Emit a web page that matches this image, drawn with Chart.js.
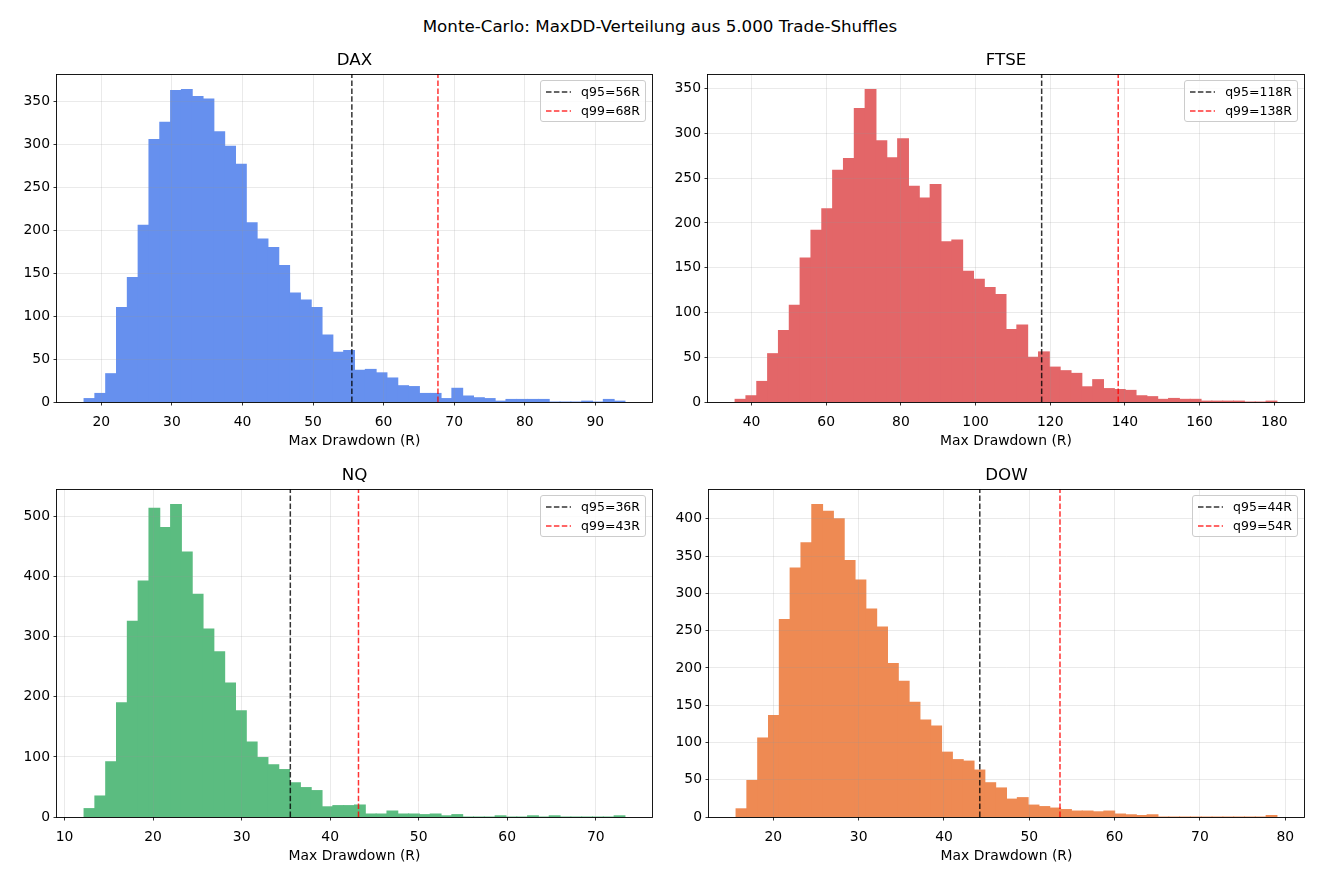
<!DOCTYPE html>
<html><head>
<meta charset="UTF-8">
<title>Monte-Carlo: MaxDD-Verteilung</title>
<script src="https://cdn.jsdelivr.net/npm/chart.js@4"></script>
<style>
    body {
        margin: 0;
        width: 1320px;
        height: 880px;
        background: #fff;
        font-family: 'DejaVu Sans', sans-serif;
        position: relative;
        overflow: hidden;
    }
    canvas { position: absolute; }
    .txt {
        position: absolute;
        transform: translate(-50%, -50%);
        white-space: nowrap;
        color: #000;
        line-height: 1;
    }
    .sup, .ttl { font-size: 16.7px; }
    .xlab { font-size: 13.9px; }
    .legend {
        position: absolute;
        box-sizing: border-box;
        height: 42px;
        padding: 1.5px 5px 0 5px;
        background: rgba(255,255,255,0.8);
        border: 1px solid #ccc;
        border-radius: 3px;
        font-size: 12.5px;
    }
    .legend .row { display: flex; align-items: center; height: 18.7px; }
    .legend svg { width: 25px; height: 6px; margin-right: 10px; }
</style>
</head>
<body>
<div class="txt sup" style="left:660px;top:26px">Monte-Carlo: MaxDD-Verteilung aus 5.000 Trade-Shuffles</div>

<script>
    // bin ranges (first edge, last edge) and counts of the 50 histogram bins
    const daxRange = [17.55, 94.2];
    const daxCounts = [4, 10, 33, 110, 145, 206, 306, 326, 363, 364,
                       356, 353, 315, 298, 277, 209, 190, 180, 159, 127,
                       119, 110, 78, 58, 60, 37, 38, 34, 28, 19,
                       18, 10, 10, 4, 16, 7, 5, 4, 1, 3,
                       3, 3, 3, 0, 0, 0, 1, 0, 3, 1];
    const daxQuantiles = [55.5, 67.7];
    const daxQLabels = ['q95=56R', 'q99=68R'];

    const ftseRange = [35.6, 180.7];
    const ftseCounts = [3, 7, 23, 54, 80, 108, 161, 192, 216, 259,
                        272, 328, 349, 292, 273, 294, 241, 228, 243, 179,
                        181, 146, 137, 128, 120, 81, 86, 50, 56, 39,
                        35, 32, 17, 25, 15, 14, 13, 7, 6, 3,
                        4, 3, 3, 1, 1, 1, 1, 0, 0, 1];
    const ftseQuantiles = [117.7, 138.2];
    const ftseQLabels = ['q95=118R', 'q99=138R'];

    const nqRange = [12.2, 73.3];
    const nqCounts = [14, 35, 92, 190, 326, 393, 514, 482, 520, 441,
                      371, 313, 275, 223, 177, 125, 99, 87, 79, 57,
                      49, 44, 17, 19, 19, 20, 5, 5, 10, 5,
                      5, 4, 5, 2, 4, 0, 0, 0, 2, 0,
                      0, 2, 0, 2, 0, 0, 0, 0, 0, 2];
    const nqQuantiles = [35.5, 43.2];
    const nqQLabels = ['q95=36R', 'q99=43R'];

    const dowRange = [15.63, 79.03];
    const dowCounts = [11, 49, 106, 136, 265, 334, 368, 419, 410, 400,
                       344, 318, 279, 255, 206, 182, 154, 130, 122, 87,
                       77, 75, 63, 46, 39, 24, 26, 16, 14, 12,
                       10, 8, 8, 7, 8, 4, 3, 2, 3, 0,
                       0, 0, 0, 0, 0, 0, 0, 0, 0, 2];
    const dowQuantiles = [44.2, 53.6];
    const dowQLabels = ['q95=44R', 'q99=54R'];

    const panels = [
        { name: 'DAX',  range: daxRange,  counts: daxCounts,  q: daxQuantiles,  qLabels: daxQLabels,  color: '#6690ee', xStep: 10, yStep: 50,  box: [57, 74, 652, 402] },
        { name: 'FTSE', range: ftseRange, counts: ftseCounts, q: ftseQuantiles, qLabels: ftseQLabels, color: '#e36668', xStep: 20, yStep: 50,  box: [708, 74, 1304, 402] },
        { name: 'NQ',   range: nqRange,   counts: nqCounts,   q: nqQuantiles,   qLabels: nqQLabels,   color: '#5bbc80', xStep: 10, yStep: 100, box: [57, 489, 652, 817] },
        { name: 'DOW',  range: dowRange,  counts: dowCounts,  q: dowQuantiles,  qLabels: dowQLabels,  color: '#ee8a53', xStep: 10, yStep: 50,  box: [709, 489, 1304, 817] }
    ];

    const lineColors = ['rgba(0,0,0,0.8)', 'rgba(255,0,0,0.8)'];
    const tickFont = { family: 'DejaVu Sans', size: 13.9 };

    // draws the four axes spines like matplotlib
    const framePlugin = {
        id: 'frame',
        afterDraw(chart) {
            const a = chart.chartArea;
            const ctx = chart.ctx;
            ctx.save();
            ctx.strokeStyle = '#000';
            ctx.lineWidth = 0.9;
            ctx.strokeRect(Math.round(a.left) - 0.5, Math.round(a.top) + 0.5,
                           Math.round(a.right - a.left) + 1, Math.round(a.bottom - a.top));
            ctx.restore();
        }
    };

    // ticks at whole multiples of the step, like matplotlib
    function stepTicks(step) {
        return scale => {
            const out = [];
            const first = Math.ceil(scale.min / step - 1e-9) * step;
            for (let v = first; v <= scale.max + 1e-9; v += step) out.push({ value: v });
            scale.ticks = out;
        };
    }

    function addText(cls, x, y, text) {
        const d = document.createElement('div');
        d.className = 'txt ' + cls;
        d.style.left = x + 'px';
        d.style.top = y + 'px';
        d.textContent = text;
        document.body.appendChild(d);
    }

    panels.forEach((p, idx) => {
        const col = idx % 2, row = Math.floor(idx / 2);
        const cvLeft = col * 660, cvTop = row ? 462 : 44;
        const cvW = 660, cvH = row ? 418 : 416;
        const [pl, pt, pr, pb] = p.box;

        const cv = document.createElement('canvas');
        cv.width = cvW; cv.height = cvH;
        cv.style.left = cvLeft + 'px';
        cv.style.top = cvTop + 'px';
        cv.style.width = cvW + 'px';
        cv.style.height = cvH + 'px';
        document.body.appendChild(cv);

        const n = p.counts.length;
        const span = p.range[1] - p.range[0];
        const bw = span / n;
        const bars = p.counts.map((c, i) => ({ x: p.range[0] + (i + 0.5) * bw, y: c }));
        const xMin = p.range[0] - 0.05 * span;
        const xMax = p.range[1] + 0.05 * span;
        const yMax = Math.max(...p.counts) * 1.05;

        const lineSets = p.q.map((q, k) => ({
            type: 'line',
            data: [{ x: q, y: 0 }, { x: q, y: yMax }],
            borderColor: lineColors[k],
            borderWidth: 1.5,
            borderDash: [5.5, 2.4],
            pointRadius: 0,
            fill: false,
            order: 1
        }));

        new Chart(cv.getContext('2d'), {
            type: 'bar',
            data: {
                datasets: [...lineSets, {
                    type: 'bar',
                    data: bars,
                    backgroundColor: p.color,
                    borderWidth: 0,
                    barPercentage: 1,
                    categoryPercentage: 1,
                    inflateAmount: 0.5,
                    order: 2
                }]
            },
            options: {
                responsive: false,
                animation: false,
                devicePixelRatio: 1,
                layout: { padding: { left: 0, top: pt - cvTop, right: cvLeft + cvW - pr, bottom: 0 } },
                plugins: { legend: { display: false }, tooltip: { enabled: false }, title: { display: false } },
                scales: {
                    x: {
                        type: 'linear',
                        min: xMin,
                        max: xMax,
                        offset: false,
                        grid: { offset: false, z: 1, color: 'rgba(150,150,150,0.25)', lineWidth: 0.8,
                                tickColor: '#000', tickLength: 3.5, tickWidth: 0.8 },
                        border: { display: false },
                        ticks: { padding: 9, color: '#000', font: tickFont, maxRotation: 0, autoSkip: false },
                        afterBuildTicks: stepTicks(p.xStep),
                        afterFit: s => { s.height = cvTop + cvH - pb; }
                    },
                    y: {
                        min: 0,
                        max: yMax,
                        grid: { z: 1, color: 'rgba(150,150,150,0.25)', lineWidth: 0.8,
                                tickColor: '#000', tickLength: 3.5, tickWidth: 0.8 },
                        border: { display: false },
                        ticks: { padding: 3.5, color: '#000', font: tickFont, autoSkip: false },
                        afterBuildTicks: stepTicks(p.yStep),
                        afterFit: s => { s.width = pl - cvLeft; }
                    }
                }
            },
            plugins: [framePlugin]
        });

        const cx = (pl + pr) / 2;
        addText('ttl', cx, pt - 15, p.name);
        addText('xlab', cx, pb + 39, 'Max Drawdown (R)');

        // legend box, upper right of the axes
        const lg = document.createElement('div');
        lg.className = 'legend';
        lg.style.right = (1320 - pr + 6) + 'px';
        lg.style.top = (pt + 6) + 'px';
        p.qLabels.forEach((lab, k) => {
            const r = document.createElement('div');
            r.className = 'row';
            r.innerHTML = '<svg viewBox="0 0 25 6"><line x1="0" y1="3" x2="25" y2="3" stroke="' + lineColors[k] +
                '" stroke-width="1.5" stroke-dasharray="5.5 2.4"/></svg><span>' + lab + '</span>';
            lg.appendChild(r);
        });
        document.body.appendChild(lg);
    });
</script>
</body>
</html>
